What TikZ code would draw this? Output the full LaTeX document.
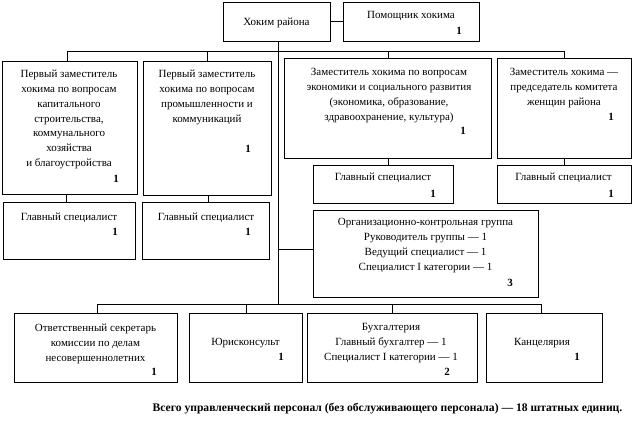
\documentclass[tikz,border=0pt]{standalone}
\usepackage{fontspec}
\setmainfont{Liberation Serif}
\newcommand\mkbox[5]{\node[bx, minimum width={#4pt-#2pt}, minimum height={#5pt-#3pt}] (#1) at (#2,#3) {};}
\begin{document}
\begin{tikzpicture}[x=1pt,y=-1pt, line width=0.9pt,
  bx/.style={draw, inner sep=0pt, anchor=north west},
  txt/.style={font=\fontsize{11}{14.7}\selectfont, align=center, inner sep=0pt, anchor=north},
  num/.style={font=\fontsize{11}{14.7}\selectfont\bfseries, inner sep=0pt, anchor=base}]
\useasboundingbox (0,0) rectangle (632,424);
% boxes
\mkbox{khokim}{223}{1.5}{330}{41}
\mkbox{pom}{343}{1.5}{479}{41}
\mkbox{A}{1.5}{61}{137}{194}
\mkbox{B}{143}{61}{271}{195}
\mkbox{C}{284}{58}{491}{158}
\mkbox{D}{497}{58}{630.5}{158}
\mkbox{gsA}{3}{202}{135}{259}
\mkbox{gsB}{142}{202}{269}{259}
\mkbox{gsC}{313}{165}{453}{203}
\mkbox{gsD}{497}{165}{630.5}{203}
\mkbox{org}{313}{210}{538}{297}
\mkbox{otv}{14}{313}{177}{382}
\mkbox{yur}{189}{313}{302}{382}
\mkbox{buh}{307}{313}{477}{382}
\mkbox{kan}{486}{313}{602}{382}
% texts
\node[txt] (khokim-t) at (276.5,15.2) {\strut Хоким района};
\node[txt] (pom-t) at (411,8.2) {\strut Помощник хокима};
\node[txt] (A-t) at (69,67.2) {\strut Первый заместитель\\хокима по вопросам\\капитального\\строительства,\\коммунального\\хозяйства\\и благоустройства};
\node[txt] (B-t) at (207,67.2) {\strut Первый заместитель\\хокима по вопросам\\промышленности и\\коммуникаций};
\node[txt] (C-t) at (389,65.2) {\strut Заместитель хокима по вопросам\\экономики и социального развития\\(экономика, образование,\\здравоохранение, культура)};
\node[txt] (D-t) at (564,65.2) {\strut Заместитель хокима —\\председатель комитета\\женщин района};
\node[txt] (gsA-t) at (69,210.2) {\strut Главный специалист};
\node[txt] (gsB-t) at (206,210.2) {\strut Главный специалист};
\node[txt] (gsC-t) at (383,170.2) {\strut Главный специалист};
\node[txt] (gsD-t) at (563.5,170.2) {\strut Главный специалист};
\node[txt] (org-t) at (425.5,215.2) {\strut Организационно-контрольная группа\\Руководитель группы — 1\\Ведущий специалист — 1\\Специалист I категории — 1};
\node[txt] (otv-t) at (95.5,321.2) {\strut Ответственный секретарь\\комиссии по делам\\несовершеннолетних};
\node[txt] (yur-t) at (245.5,335.2) {\strut Юрисконсульт};
\node[txt] (buh-t) at (391,320.2) {\strut Бухгалтерия\\Главный бухгалтер — 1\\Специалист I категории — 1};
\node[txt] (kan-t) at (542,335.2) {\strut Канцелярия};
% numbers
\node[num] (pom-n) at (459,34.6) {1};
\node[num] (A-n) at (116,182.6) {1};
\node[num] (B-n) at (248,152.6) {1};
\node[num] (C-n) at (463,134.6) {1};
\node[num] (D-n) at (611,120.6) {1};
\node[num] (gsA-n) at (115,235.6) {1};
\node[num] (gsB-n) at (248,235.6) {1};
\node[num] (gsC-n) at (433,197.6) {1};
\node[num] (gsD-n) at (611,197.6) {1};
\node[num] (org-n) at (510,286.6) {3};
\node[num] (otv-n) at (154,375.6) {1};
\node[num] (yur-n) at (281,360.6) {1};
\node[num] (buh-n) at (447,375.6) {2};
\node[num] (kan-n) at (577,360.6) {1};
% footer
\node[num, font=\fontsize{11.6}{14.7}\selectfont\bfseries] (total) at (387.5,411) {Всего управленческий персонал (без обслуживающего персонала) — 18 штатных единиц.};
% connectors
\coordinate (tr) at (278,0);
\coordinate (tb) at (0,51);
\coordinate (bb) at (0,304);
\draw (khokim.east) -- (khokim.east -| pom.west);
\draw (khokim.south -| tr) -- (tr |- bb);
\draw ([xshift=-2pt]A.north) -- ([xshift=-2pt]A.north |- tb) -| (D.north);
\draw (B.north) -- (B.north |- tb);
\draw (C.north) -- (C.north |- tb);
\draw ([xshift=-3pt]A.south) -- ([xshift=-3pt]A.south |- gsA.north);
\draw ([xshift=1pt]B.south) -- ([xshift=1pt]B.south |- gsB.north);
\draw (C.south) -- (C.south |- gsC.north);
\draw (D.south) -- (D.south |- gsD.north);
\draw ([yshift=4.5pt]org.west) -- ([yshift=4.5pt]org.west -| tr);
\draw ([xshift=1.5pt]otv.north) -- ([xshift=1.5pt]otv.north |- bb) -| ([xshift=-3pt]kan.north);
\draw (yur.north) -- (yur.north |- bb);
\draw (buh.north) -- (buh.north |- bb);
\end{tikzpicture}
\end{document}
